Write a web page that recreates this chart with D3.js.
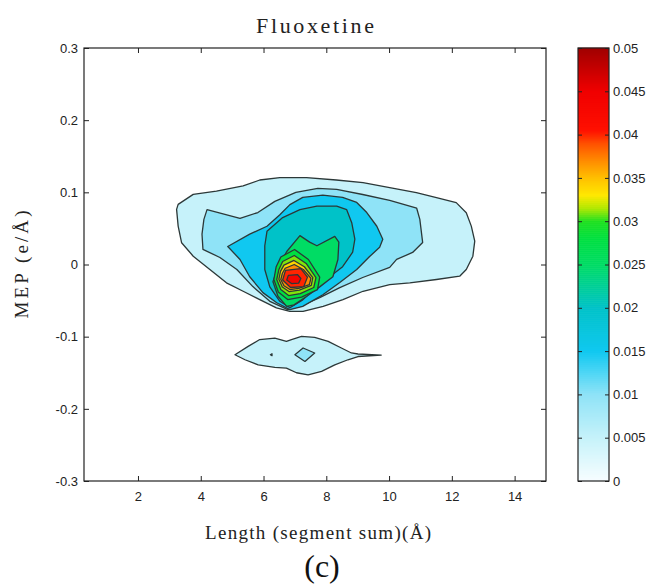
<!DOCTYPE html>
<html>
<head>
<meta charset="utf-8">
<script src="https://cdn.jsdelivr.net/npm/d3@7"></script>
<style>
  html, body { margin: 0; padding: 0; background: #fff; }
  svg { display: block; }
</style>
</head>
<body>
<script>
// ---------------- DATA ----------------
const xDomain = [0.28, 15];
const yDomain = [-0.3, 0.3];
const cDomain = [0, 0.05];

const xTicks = [2, 4, 6, 8, 10, 12, 14];
const xTickLabels = ["2", "4", "6", "8", "10", "12", "14"];
const yTicks = [0.3, 0.2, 0.1, 0, -0.1, -0.2, -0.3];
const yTickLabels = ["0.3", "0.2", "0.1", "0", "-0.1", "-0.2", "-0.3"];
const cTicks = [0, 0.005, 0.01, 0.015, 0.02, 0.025, 0.03, 0.035, 0.04, 0.045, 0.05];
const cTickLabels = ["0", "0.005", "0.01", "0.015", "0.02", "0.025", "0.03", "0.035", "0.04", "0.045", "0.05"];

// colormap stops (value -> colour)
const cmapValues = [0, 0.005, 0.01, 0.0125, 0.015, 0.02, 0.025, 0.028, 0.03, 0.0315, 0.033, 0.035, 0.037, 0.039, 0.0405, 0.045, 0.05];
const cmapColors = ["#f7fdff", "#c6f2fa", "#8fe3f7", "#4fd6f5", "#10c8f0", "#00c2c8", "#00dc64", "#00e040", "#20e020",
                    "#b0e800", "#ffe800", "#ffc000", "#ff8c00", "#ff5000", "#ff1000", "#f00000", "#a00000"];

// contour levels
const levels = [0.005, 0.01, 0.015, 0.02, 0.025, 0.028, 0.031, 0.034, 0.037, 0.040, 0.044];

// contour polygons [length, MEP]
const main005 = [[3.23,0.0764],[3.28,0.0833],[3.76,0.0972],[4.50,0.1018],[5.35,0.1088],[5.88,0.1171],[6.52,0.1204],
  [7.37,0.1204],[8.32,0.1171],[9.17,0.1135],[10.02,0.1065],[10.87,0.0996],[11.51,0.0926],[12.14,0.0857],[12.46,0.0718],
  [12.62,0.0532],[12.73,0.0324],[12.67,0.0115],[12.46,-0.0069],[12.25,-0.0162],[11.51,-0.0208],[10.66,-0.0254],
  [10.02,-0.0278],[9.17,-0.0371],[8.53,-0.0486],[7.90,-0.0579],[7.26,-0.0649],[6.84,-0.0649],[6.41,-0.0601],
  [5.88,-0.0486],[5.35,-0.0371],[4.82,-0.0254],[4.29,-0.0069],[3.76,0.0115],[3.39,0.0301],[3.28,0.0532]];
const lower005 = [[5.09,-0.125],[5.51,-0.1135],[5.88,-0.104],[6.36,-0.102],[6.73,-0.1065],[6.89,-0.104],[7.21,-0.0996],
  [7.63,-0.101],[8.06,-0.1065],[8.48,-0.1157],[8.80,-0.1226],[9.01,-0.124],[9.75,-0.1255],[9.01,-0.1275],[8.69,-0.132],
  [8.27,-0.139],[7.85,-0.148],[7.42,-0.153],[7.05,-0.150],[6.73,-0.1435],[6.36,-0.1426],[5.83,-0.139],[5.41,-0.132]];
const main010 = [[4.20,0.076],[5.25,0.064],[5.82,0.072],[6.36,0.0875],[7.03,0.100],[7.73,0.1056],[8.33,0.104],[9.16,0.097],
  [10.02,0.089],[10.88,0.078],[10.98,0.0625],[11.07,0.0306],[10.75,0.0167],[10.24,0.007],[10.02,-0.004],[9.16,-0.018],
  [8.43,-0.032],[7.79,-0.046],[7.16,-0.058],[6.77,-0.0625],[6.20,-0.051],[5.66,-0.0306],[5.15,-0.007],[4.61,0.0097],
  [4.07,0.021],[4.04,0.042],[4.10,0.0625]];
const lower010 = [[7.00,-0.125],[7.26,-0.1157],[7.63,-0.1226],[7.32,-0.1343]];
const dot010 = [[6.22,-0.125],[6.27,-0.1237],[6.27,-0.1263]];
const main015 = [[4.86,0.025],[5.56,0.042],[6.11,0.053],[6.52,0.069],[6.84,0.083],[7.25,0.093],[7.89,0.096],[8.52,0.093],
  [8.97,0.086],[9.29,0.072],[9.61,0.053],[9.80,0.035],[9.70,0.024],[9.38,0.011],[8.97,-0.007],[8.43,-0.025],[7.89,-0.042],
  [7.25,-0.058],[6.84,-0.0625],[6.42,-0.053],[5.98,-0.039],[5.56,-0.017],[5.25,0.007]];
const main020 = [[6.04,0.026],[6.11,0.046],[6.61,0.065],[7.16,0.076],[7.70,0.081],[8.33,0.081],[8.65,0.076],[8.81,0.058],
  [8.91,0.035],[8.84,0.017],[8.52,-0.003],[8.11,-0.017],[7.70,-0.031],[7.25,-0.049],[6.84,-0.060],[6.52,-0.051],
  [6.20,-0.031],[6.04,-0.007]];
const main025 = [[6.30,-0.024],[6.46,-0.004],[6.74,0.018],[7.16,0.040],[7.47,0.031],[7.70,0.026],[8.27,0.039],[8.40,0.031],
  [8.37,0.007],[8.21,-0.017],[7.79,-0.031],[7.38,-0.044],[6.97,-0.056],[6.74,-0.058],[6.46,-0.044]];
const main028 = [[6.55,0.0104],[6.99,0.0208],[7.43,0.0069],[7.79,-0.0174],[7.72,-0.0347],[7.21,-0.0451],[6.77,-0.0486],
  [6.47,-0.0382],[6.33,-0.0208],[6.40,-0.0035]];
const main031 = [[6.61,0.0042],[6.98,0.0125],[7.36,0.0014],[7.67,-0.0181],[7.60,-0.0319],[7.17,-0.0403],[6.80,-0.0431],
  [6.55,-0.0347],[6.42,-0.0208],[6.49,-0.0069]];
const main034 = [[6.65,-0.0009],[6.97,0.0056],[7.30,-0.0031],[7.57,-0.0181],[7.52,-0.0289],[7.14,-0.0354],[6.81,-0.0375],
  [6.60,-0.0311],[6.49,-0.0203],[6.54,-0.0096]];
const main037 = [[6.69,-0.0052],[6.98,0.0],[7.27,-0.0069],[7.51,-0.0191],[7.46,-0.0278],[7.12,-0.0330],[6.84,-0.0347],
  [6.65,-0.0295],[6.55,-0.0208],[6.60,-0.0122]];
const main040 = [[6.70,-0.0082],[7.19,-0.0056],[7.40,-0.0175],[7.28,-0.0307],[6.86,-0.0319],[6.61,-0.0214]];
const main044 = [[6.79,-0.0151],[7.08,-0.0139],[7.19,-0.0194],[7.12,-0.0258],[6.89,-0.0264],[6.74,-0.0214]];

const contourPolys = [
  { level: levels[0], pts: main005 }, { level: levels[0], pts: lower005 },
  { level: levels[1], pts: main010 }, { level: levels[1], pts: lower010 }, { level: levels[1], pts: dot010 },
  { level: levels[2], pts: main015 },
  { level: levels[3], pts: main020 },
  { level: levels[4], pts: main025 },
  { level: levels[5], pts: main028 },
  { level: levels[6], pts: main031 },
  { level: levels[7], pts: main034 },
  { level: levels[8], pts: main037 },
  { level: levels[9], pts: main040 },
  { level: levels[10], pts: main044 }
];

// ---------------- DRAW ----------------
const W = 655, H = 584;
const plot = { left: 84, right: 546, top: 48, bottom: 481 };
const cbar = { left: 578, right: 609, top: 48, bottom: 481 };

const svg = d3.select("body").append("svg").attr("width", W).attr("height", H);

const x = d3.scaleLinear().domain(xDomain).range([plot.left, plot.right]);
const y = d3.scaleLinear().domain(yDomain).range([plot.bottom, plot.top]);
const cy = d3.scaleLinear().domain(cDomain).range([cbar.bottom, cbar.top]);
const cmap = d3.scaleLinear().domain(cmapValues).range(cmapColors).interpolate(d3.interpolateRgb).clamp(true);

svg.append("defs").append("clipPath").attr("id", "pclip")
  .append("rect").attr("x", plot.left).attr("y", plot.top)
  .attr("width", plot.right - plot.left).attr("height", plot.bottom - plot.top);

const line = d3.line().x(d => x(d[0])).y(d => y(d[1])).curve(d3.curveLinearClosed);

svg.append("g").attr("clip-path", "url(#pclip)")
  .selectAll("path").data(contourPolys).join("path")
  .attr("d", d => line(d.pts))
  .attr("fill", d => cmap(d.level))
  .attr("stroke", "#2c3838")
  .attr("stroke-width", 1.3)
  .attr("stroke-linejoin", "round");

const fontSans = "'Liberation Sans', Arial, Helvetica, sans-serif";
const fontSerif = "'Liberation Serif', 'Times New Roman', serif";

function styleAxis(g) {
  g.select(".domain").remove();
  g.selectAll(".tick line").attr("stroke", "#222").attr("stroke-width", 1);
  g.selectAll(".tick text").attr("font-family", fontSans).attr("font-size", 13).attr("fill", "#222");
}

svg.append("g").attr("transform", `translate(0,${plot.bottom})`)
  .call(d3.axisBottom(x).tickValues(xTicks).tickFormat((d, i) => xTickLabels[i]).tickSize(-5).tickPadding(11))
  .call(styleAxis);
svg.append("g").attr("transform", `translate(0,${plot.top})`)
  .call(d3.axisTop(x).tickValues(xTicks).tickFormat("").tickSize(-5))
  .call(styleAxis);
svg.append("g").attr("transform", `translate(${plot.left},0)`)
  .call(d3.axisLeft(y).tickValues(yTicks).tickFormat((d, i) => yTickLabels[i]).tickSize(-5).tickPadding(6))
  .call(styleAxis);
svg.append("g").attr("transform", `translate(${plot.right},0)`)
  .call(d3.axisRight(y).tickValues(yTicks).tickFormat("").tickSize(-5))
  .call(styleAxis);

svg.append("rect").attr("x", plot.left).attr("y", plot.top)
  .attr("width", plot.right - plot.left).attr("height", plot.bottom - plot.top)
  .attr("fill", "none").attr("stroke", "#222").attr("stroke-width", 1.2);

// colorbar
const nSteps = 216;
const stepVals = d3.range(nSteps).map(i => cDomain[0] + (i + 0.5) * (cDomain[1] - cDomain[0]) / nSteps);
const stepH = (cbar.bottom - cbar.top) / nSteps;
svg.append("g").selectAll("rect").data(stepVals).join("rect")
  .attr("x", cbar.left).attr("width", cbar.right - cbar.left)
  .attr("y", d => cy(d) - stepH / 2 - 0.3).attr("height", stepH + 0.6)
  .attr("fill", d => cmap(d));

svg.append("g").attr("transform", `translate(${cbar.right},0)`)
  .call(d3.axisRight(cy).tickValues(cTicks).tickFormat((d, i) => cTickLabels[i]).tickSize(-4).tickPadding(4))
  .call(styleAxis);
svg.append("g").attr("transform", `translate(${cbar.left},0)`)
  .call(d3.axisLeft(cy).tickValues(cTicks).tickFormat("").tickSize(-4))
  .call(styleAxis);
svg.append("rect").attr("x", cbar.left).attr("y", cbar.top)
  .attr("width", cbar.right - cbar.left).attr("height", cbar.bottom - cbar.top)
  .attr("fill", "none").attr("stroke", "#222").attr("stroke-width", 1.2);

// texts
svg.append("text").attr("x", (plot.left + plot.right) / 2).attr("y", 33)
  .attr("text-anchor", "middle").attr("font-family", fontSerif).attr("font-size", 22)
  .attr("textLength", 118).attr("lengthAdjust", "spacing").attr("fill", "#222")
  .text("Fluoxetine");

svg.append("text").attr("x", 318).attr("y", 539)
  .attr("text-anchor", "middle").attr("font-family", fontSerif).attr("font-size", 19)
  .attr("textLength", 226).attr("lengthAdjust", "spacing").attr("fill", "#222")
  .text("Length (segment sum)(Å)");

svg.append("text").attr("transform", `translate(28,${(plot.top + plot.bottom) / 2}) rotate(-90)`)
  .attr("text-anchor", "middle").attr("font-family", fontSerif).attr("font-size", 19)
  .attr("textLength", 108).attr("lengthAdjust", "spacing").attr("fill", "#222")
  .text("MEP (e/Å)");

svg.append("text").attr("x", 322).attr("y", 577)
  .attr("text-anchor", "middle").attr("font-family", fontSerif).attr("font-size", 32)
  .attr("fill", "#111")
  .text("(c)");
</script>
</body>
</html>
